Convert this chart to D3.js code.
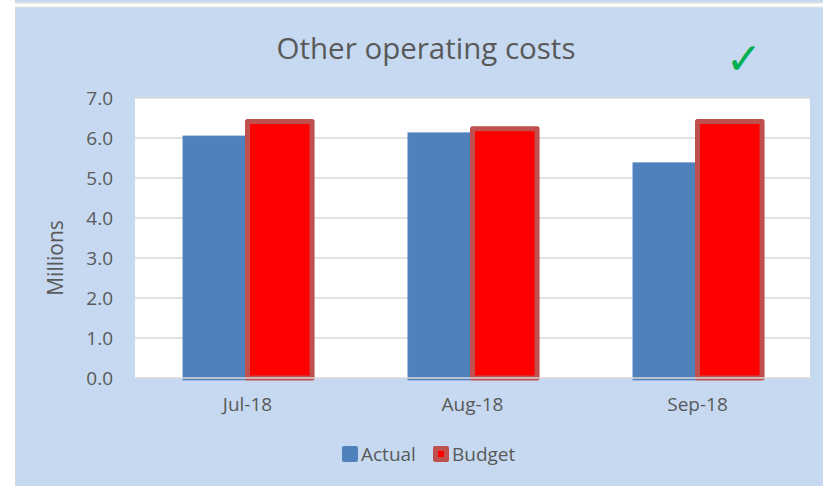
<!DOCTYPE html>
<html><head><meta charset="utf-8">
<script src="https://cdn.jsdelivr.net/npm/d3@7"></script>
<style>body{margin:0;background:#fff;}svg{display:block;font-family:"Open Sans","Noto Sans",sans-serif;}</style>
</head><body><svg id="c" width="823" height="486"></svg>
<script>
const categories = ["Jul-18", "Aug-18", "Sep-18"];
const actual = [6.05, 6.13, 5.38];
const budget = [6.41, 6.23, 6.41];
const yTicks = [0, 1, 2, 3, 4, 5, 6, 7];
const seriesNames = ["Actual", "Budget"];

const svg = d3.select("#c");
const W = 823, H = 486;
const bg = "#c6d9f1";
// outer decoration
svg.append("rect").attr("x", 15).attr("y", 0).attr("width", W - 15).attr("height", 2.5).attr("fill", bg);
svg.append("rect").attr("x", 15).attr("y", 2.5).attr("width", W - 15).attr("height", 1).attr("fill", "#d9d9d9");
svg.append("rect").attr("x", 15).attr("y", 7).attr("width", W - 15).attr("height", H - 7).attr("fill", bg);
svg.append("rect").attr("x", 15).attr("y", 7).attr("width", 1.2).attr("height", H - 7).attr("fill", "#d9d9d9");
svg.append("rect").attr("x", 15).attr("y", 6.5).attr("width", W - 15).attr("height", 1).attr("fill", "#e4e4e4");

const m = {l: 135, r: 810, t: 98, b: 378};
svg.append("rect").attr("x", m.l).attr("y", m.t).attr("width", m.r - m.l).attr("height", m.b - m.t).attr("fill", "#fff");

const x = d3.scaleBand().domain(categories).range([m.l, m.r]).paddingInner(0).paddingOuter(0);
const y = d3.scaleLinear().domain([0, 7]).range([m.b, m.t]);
const bw = x.bandwidth() * 0.287;

// gridlines
svg.append("g").selectAll("line").data(yTicks.filter(d => d > 0)).join("line")
  .attr("x1", m.l).attr("x2", m.r).attr("y1", d => y(d)).attr("y2", d => y(d))
  .attr("stroke", "#d9d9d9").attr("stroke-width", 1.5);

// bars
const g = svg.append("g");
g.selectAll("rect.a").data(actual).join("rect").attr("class", "a")
  .attr("x", (d, i) => x(categories[i]) + x.bandwidth() / 2 - bw)
  .attr("width", bw)
  .attr("y", d => y(d)).attr("height", d => y(0) - y(d) + 2)
  .attr("fill", "#4f81bd").attr("stroke", "#5a8ac6").attr("stroke-width", 0.8);
g.selectAll("rect.b").data(budget).join("rect").attr("class", "b")
  .attr("x", (d, i) => x(categories[i]) + x.bandwidth() / 2)
  .attr("width", bw)
  .attr("y", d => y(d)).attr("height", d => y(0) - y(d))
  .attr("fill", "#ff0000").attr("stroke", "#c0504d").attr("stroke-width", 5)
  .attr("stroke-linejoin", "round");

// baseline axis
svg.append("line").attr("x1", m.l).attr("x2", m.r).attr("y1", m.b).attr("y2", m.b)
  .attr("stroke", "#d9d9d9").attr("stroke-width", 1.5);

// y axis
const yAxis = d3.axisLeft(y).tickValues(yTicks).tickFormat(d3.format(".1f")).tickSize(0).tickPadding(22);
const ya = svg.append("g").attr("transform", `translate(${m.l},0)`).call(yAxis);
ya.select(".domain").remove();
ya.selectAll("text").attr("fill", "#595959").attr("font-size", 19).attr("font-family", "'Open Sans',sans-serif");

// x axis
const xAxis = d3.axisBottom(x).tickSize(0).tickPadding(20);
const xa = svg.append("g").attr("transform", `translate(0,${m.b})`).call(xAxis);
xa.select(".domain").remove();
xa.selectAll("text").attr("fill", "#595959").attr("font-size", 19).attr("font-family", "'Open Sans',sans-serif");

// y title
svg.append("text").attr("transform", "translate(63,258) rotate(-90)").attr("text-anchor", "middle")
  .attr("fill", "#595959").attr("font-size", 21).text("Millions");

// title
svg.append("text").attr("x", 426).attr("y", 59).attr("text-anchor", "middle")
  .attr("fill", "#595959").attr("font-size", 29.5).text("Other operating costs");
svg.append("text").attr("x", 744).attr("y", 74).attr("text-anchor", "middle")
  .attr("fill", "#00b050").attr("font-size", 44).attr("font-family", "'DejaVu Sans',sans-serif").text("\u2713");

// legend
const lg = svg.append("g");
const lx = [342, 433];
seriesNames.forEach((s, i) => {
  const gg = lg.append("g").attr("transform", `translate(${lx[i]},446)`);
  if (i === 0) {
    gg.append("rect").attr("width", 16).attr("height", 16).attr("rx", 2).attr("fill", "#4f81bd");
  } else {
    gg.append("rect").attr("width", 16).attr("height", 16).attr("rx", 2).attr("fill", "#c0504d");
    gg.append("rect").attr("x", 5).attr("y", 5).attr("width", 6).attr("height", 6).attr("fill", "#ff0000");
  }
  gg.append("text").attr("x", 19).attr("y", 15).attr("fill", "#595959").attr("font-size", 19).text(s);
});
</script></body></html>
